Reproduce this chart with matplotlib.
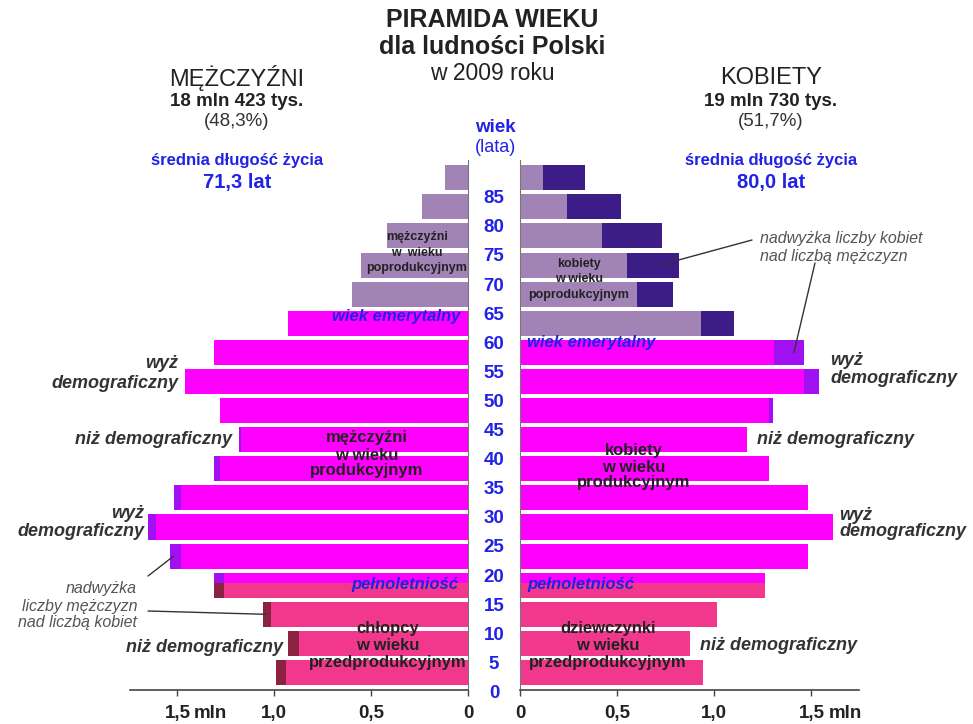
import matplotlib
matplotlib.use('Agg')
import matplotlib.pyplot as plt
import matplotlib.transforms as mtransforms

plt.rcParams['font.family'] = ['Liberation Sans', 'DejaVu Sans']

# ---------------- data ----------------
age_groups = ['0-4', '5-9', '10-14', '15-19', '20-24', '25-29', '30-34', '35-39', '40-44',
              '45-49', '50-54', '55-59', '60-64', '65-69', '70-74', '75-79', '80-84', '85+']
age_starts = [0, 5, 10, 15, 20, 25, 30, 35, 40, 45, 50, 55, 60, 65, 70, 75, 80, 85]
men = [0.99, 0.93, 1.06, 1.31, 1.54, 1.65, 1.52, 1.31, 1.18, 1.28, 1.46, 1.31, 0.93,
       0.60, 0.55, 0.42, 0.24, 0.12]
women = [0.94, 0.875, 1.015, 1.26, 1.48, 1.61, 1.48, 1.28, 1.17, 1.30, 1.54, 1.46, 1.10,
         0.79, 0.82, 0.73, 0.52, 0.335]
age_tick_labels = ['0', '5', '10', '15', '20', '25', '30', '35', '40', '45', '50', '55',
                   '60', '65', '70', '75', '80', '85']
x_ticks = [0, 0.5, 1.0, 1.5]
x_tick_labels = ['0', '0,5', '1,0', '1,5']
adult_age = 18
working_start = 20   # group boundary used for colouring
retire_men = 65
retire_women = 60

# ---------------- style ----------------
W, H = 973, 724
BLUE = '#2222e6'
DARK = '#222222'
COLORS = {
    'pre': ('#f2388c', '#8c2241'),
    'work': ('#ff00ff', '#a010f0'),
    'post': ('#a283b6', '#3c1c86'),
}
BAR_H = 0.86

fig = plt.figure(figsize=(W / 100, H / 100), dpi=100)


def fx(px):
    return px / W


def fy(py):
    return 1 - py / H


ax_l = fig.add_axes([fx(130), fy(690), (468 - 130) / W, (690 - 160) / H])
ax_r = fig.add_axes([fx(520), fy(690), (859 - 520) / W, (690 - 160) / H])


def stage(a, retire):
    if a >= retire:
        return 'post'
    if a >= working_start:
        return 'work'
    if a >= 15:
        return 'split'
    return 'pre'


def draw_side(ax, own, other, retire):
    for i, a in enumerate(age_starts):
        v = own[i]
        base = min(own[i], other[i])
        st = stage(a, retire)
        if st == 'split':
            frac_top = (working_start - adult_age) / 5.0
            parts = [('pre', i - BAR_H / 2 + BAR_H * (1 - frac_top) / 2, BAR_H * (1 - frac_top)),
                     ('work', i + BAR_H / 2 - BAR_H * frac_top / 2, BAR_H * frac_top)]
        else:
            parts = [(st, i, BAR_H)]
        for s, yc, h in parts:
            c_base, c_exc = COLORS[s]
            ax.barh(yc, base, height=h, color=c_base, linewidth=0)
            if v > base:
                ax.barh(yc, v - base, left=base, height=h, color=c_exc, linewidth=0)


draw_side(ax_l, men, women, retire_men)
draw_side(ax_r, women, men, retire_women)

TICK_LEN, TICK_PAD = 4, 7
for ax in (ax_l, ax_r):
    ax.set_xlim(0, 1.745)
    ax.set_ylim(-0.6, 17.61)
    ax.set_yticks([])
    ax.set_xticks(x_ticks)
    ax.set_xticklabels(x_tick_labels, fontsize=13.5, fontweight='bold', color=DARK)
    ax.tick_params(axis='x', direction='out', length=TICK_LEN, width=1, color='#444',
                   pad=TICK_PAD)
    ax.spines['top'].set_visible(False)
    ax.spines['bottom'].set_color('#444')
    ax.spines['bottom'].set_linewidth(1.2)
    ax.patch.set_alpha(0)
ax_l.invert_xaxis()
ax_l.spines['left'].set_visible(False)
ax_l.spines['right'].set_color('#777')
ax_r.spines['right'].set_visible(False)
ax_r.spines['left'].set_color('#777')

# "mln" after 1,5 (same baseline as the tick labels)
off_y = -(TICK_LEN + TICK_PAD) * 100 / 72
for ax, dx in ((ax_l, 16), (ax_r, 17)):
    ax.annotate('mln', xy=(1.5, -0.6), xytext=(dx, off_y), textcoords='offset pixels',
                ha='left', va='top', fontsize=13.5, fontweight='bold', color=DARK,
                annotation_clip=False)

# age labels in the centre
tr = mtransforms.blended_transform_factory(fig.transFigure, ax_r.transData)
for k, lab in enumerate(age_tick_labels):
    fig.text(fx(494), k - 0.72, lab, transform=tr, ha='center', va='center',
             fontsize=13.5, fontweight='bold', color=BLUE)


def T(x, y, s, **kw):
    kw.setdefault('ha', 'center')
    kw.setdefault('va', 'center')
    fig.text(fx(x), fy(y), s, **kw)


# titles
T(492, 20, 'PIRAMIDA WIEKU', fontsize=18, fontweight='bold', color=DARK)
T(492, 47, 'dla ludności Polski', fontsize=18, fontweight='bold', color=DARK)
T(492, 73, 'w 2009 roku', fontsize=16.5, color=DARK)

T(237, 78, 'MĘŻCZYŹNI', fontsize=17, color=DARK)
T(237, 101, '18 mln 423 tys.', fontsize=13.5, fontweight='bold', color=DARK)
T(237, 122, '(48,3%)', fontsize=13.5, color='#333')
T(771, 78, 'KOBIETY', fontsize=17, color=DARK)
T(771, 101, '19 mln 730 tys.', fontsize=13.5, fontweight='bold', color=DARK)
T(771, 122, '(51,7%)', fontsize=13.5, color='#333')

T(495, 128, 'wiek', fontsize=13.5, fontweight='bold', color=BLUE)
T(495, 147, '(lata)', fontsize=13, color=BLUE)

T(237, 160, 'średnia długość życia', fontsize=12, fontweight='bold', color=BLUE)
T(237, 182, '71,3 lat', fontsize=14.5, fontweight='bold', color=BLUE)
T(771, 160, 'średnia długość życia', fontsize=12, fontweight='bold', color=BLUE)
T(771, 182, '80,0 lat', fontsize=14.5, fontweight='bold', color=BLUE)


def lines(x, ys, texts, **kw):
    for y, s in zip(ys, texts):
        T(x, y, s, **kw)


# labels inside bars
small = dict(fontsize=9, fontweight='bold', color=DARK)
mid = dict(fontsize=12, fontweight='bold', color=DARK)
lines(417, [237, 253, 268], ['mężczyźni', 'w  wieku', 'poprodukcyjnym'], **small)
lines(579, [264, 279, 295], ['kobiety', 'w wieku', 'poprodukcyjnym'], **small)
lines(367, [438, 455, 471], ['mężczyźni', 'w wieku', 'produkcyjnym'], **mid)
lines(634, [450, 467, 483], ['kobiety', 'w wieku', 'produkcyjnym'], **mid)
lines(388, [628, 645, 662], ['chłopcy', 'w wieku', 'przedprodukcyjnym'], **mid)
lines(608, [628, 645, 662], ['dziewczynki', 'w wieku', 'przedprodukcyjnym'], **mid)

bi = dict(fontsize=12, fontweight='bold', style='italic', color=BLUE)
T(460, 316, 'wiek emerytalny', ha='right', **bi)
T(527, 343, 'wiek emerytalny', ha='left', **bi)
T(458, 584, 'pełnoletniość', ha='right', **bi)
T(527, 585, 'pełnoletniość', ha='left', **bi)

# demographic labels
dg = dict(fontsize=13, fontweight='bold', style='italic', color='#333')
lines(178, [363, 383], ['wyż', 'demograficzny'], ha='right', **dg)
T(232, 440, 'niż demograficzny', ha='right', **dg)
lines(144, [513, 532], ['wyż', 'demograficzny'], ha='right', **dg)
T(283, 647, 'niż demograficzny', ha='right', **dg)
lines(830, [360, 378], ['wyż', 'demograficzny'], ha='left', **dg)
T(757, 440, 'niż demograficzny', ha='left', **dg)
lines(839, [515, 532], ['wyż', 'demograficzny'], ha='left', **dg)
T(700, 646, 'niż demograficzny', ha='left', **dg)

# surplus annotations
an = dict(fontsize=11.5, style='italic', color='#555')
lines(760, [238, 256], ['nadwyżka liczby kobiet', 'nad liczbą mężczyzn'], ha='left', **an)
lines(137, [588, 606, 623], ['nadwyżka', 'liczby mężczyzn', 'nad liczbą kobiet'], ha='right', **an)

ap = dict(arrowstyle='-', color='#333', lw=1, shrinkA=0, shrinkB=0)
ax_r.annotate('', xy=(0.72, 14), xytext=(fx(752), fy(240)), textcoords='figure fraction',
              arrowprops=ap, annotation_clip=False)
ax_r.annotate('', xy=(1.41, 11), xytext=(fx(815), fy(263)), textcoords='figure fraction',
              arrowprops=ap, annotation_clip=False)
ax_l.annotate('', xy=(1.52, 4), xytext=(fx(148), fy(576)), textcoords='figure fraction',
              arrowprops=ap, annotation_clip=False)
ax_l.annotate('', xy=(1.04, 2), xytext=(fx(148), fy(611)), textcoords='figure fraction',
              arrowprops=ap, annotation_clip=False)

fig.savefig('out.png', dpi=100)
